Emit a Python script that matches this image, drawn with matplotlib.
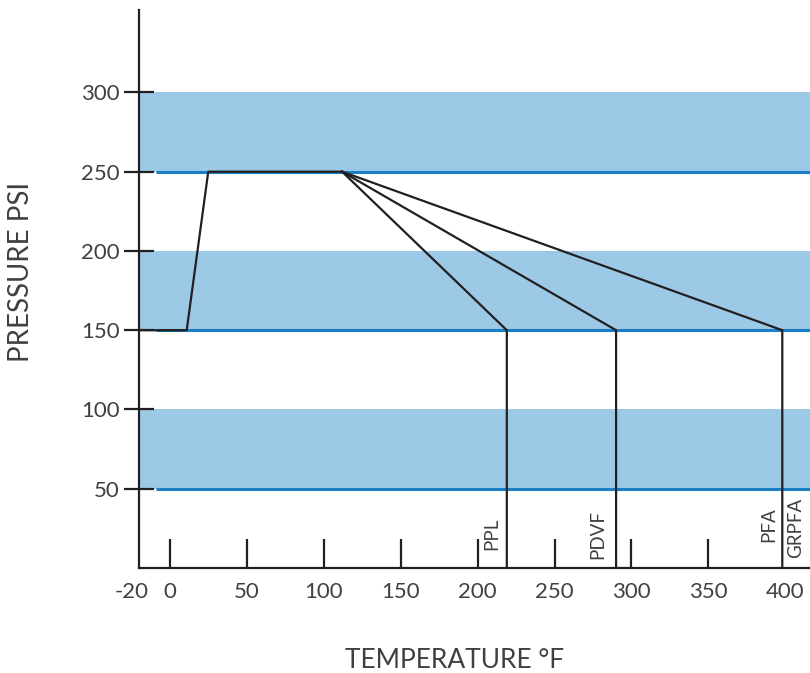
import matplotlib.pyplot as plt
import matplotlib.transforms as mtransforms
import numpy as np

# Pressure / temperature rating chart
base_temp = [-20, 11, 25, 112]          # deg F
base_psi = [150, 150, 250, 250]
materials = ["PPL", "PDVF", "PFA"]
end_temp = [219, 290, 398]              # where each line drops to 150 psi
end_psi = 150
bands = [(50, 100), (150, 200), (250, 300)]
x_ticks = [-20, 0, 50, 100, 150, 200, 250, 300, 350, 400]
y_ticks = [50, 100, 150, 200, 250, 300]

band_color = "#9ccae6"
edge_color = "#1a7fc4"
ink = "#231f20"
txt = "#404040"

plt.rcParams['font.family'] = ['Lato', 'DejaVu Sans']

fig = plt.figure(figsize=(8.1, 6.73), dpi=100)
ax = fig.add_axes([139/810, 105/673, 1 - 139/810, 558/673])
ax.set_xlim(-20, 416)
ax.set_ylim(0, 352)

for lo, hi in bands:
    ax.axhspan(lo, hi, color=band_color, lw=0, zorder=0)
    ax.hlines(lo, -9, 416, color=edge_color, lw=2.2, zorder=1)

ax.plot(base_temp, base_psi, color=ink, lw=1.6, zorder=3)
for t in end_temp:
    ax.plot([base_temp[-1], t, t], [base_psi[-1], end_psi, 0], color=ink, lw=1.6, zorder=3)

# vertical material labels
ax.text(209, 11.5, "PPL", rotation=90, ha='center', va='bottom', fontsize=13.5, color=txt)
ax.text(278, 5.5, "PDVF", rotation=90, ha='center', va='bottom', fontsize=13.5, color=txt)
ax.text(389, 16.5, "PFA", rotation=90, ha='center', va='bottom', fontsize=13.5, color=txt)
ax.text(406.5, 6.5, "GRPFA", rotation=90, ha='center', va='bottom', fontsize=13.5, color=txt)

for s in ['top', 'right']:
    ax.spines[s].set_visible(False)
for s in ['left', 'bottom']:
    ax.spines[s].set_color(ink)
    ax.spines[s].set_linewidth(1.6)

ax.set_xticks(x_ticks)
ax.set_xticklabels([str(v) for v in x_ticks])
ax.set_yticks(y_ticks)
ax.set_yticklabels([str(v) for v in y_ticks])
ax.tick_params(axis='x', direction='in', length=21, width=1.6, color=ink,
               labelsize=16, labelcolor=txt, pad=10)
ax.tick_params(axis='y', direction='inout', length=22, width=1.6, color=ink,
               labelsize=16, labelcolor=txt, pad=3)
ax.xaxis.get_major_ticks()[-1].tick1line.set_visible(False)
ax.xaxis.get_major_ticks()[0].tick1line.set_visible(False)
# nudge the -20 label a little left, as in the original
lbl = ax.get_xticklabels()[0]
lbl.set_transform(lbl.get_transform() + mtransforms.ScaledTranslation(-7/100, 0, fig.dpi_scale_trans))

fig.text(455/810, 1 - 660/673, "TEMPERATURE °F", ha='center', va='center', fontsize=19, color=txt)
fig.text(21/810, 1 - 272/673, "PRESSURE PSI", rotation=90, ha='center', va='center', fontsize=20, color=txt)

fig.savefig("out.png", dpi=100)
